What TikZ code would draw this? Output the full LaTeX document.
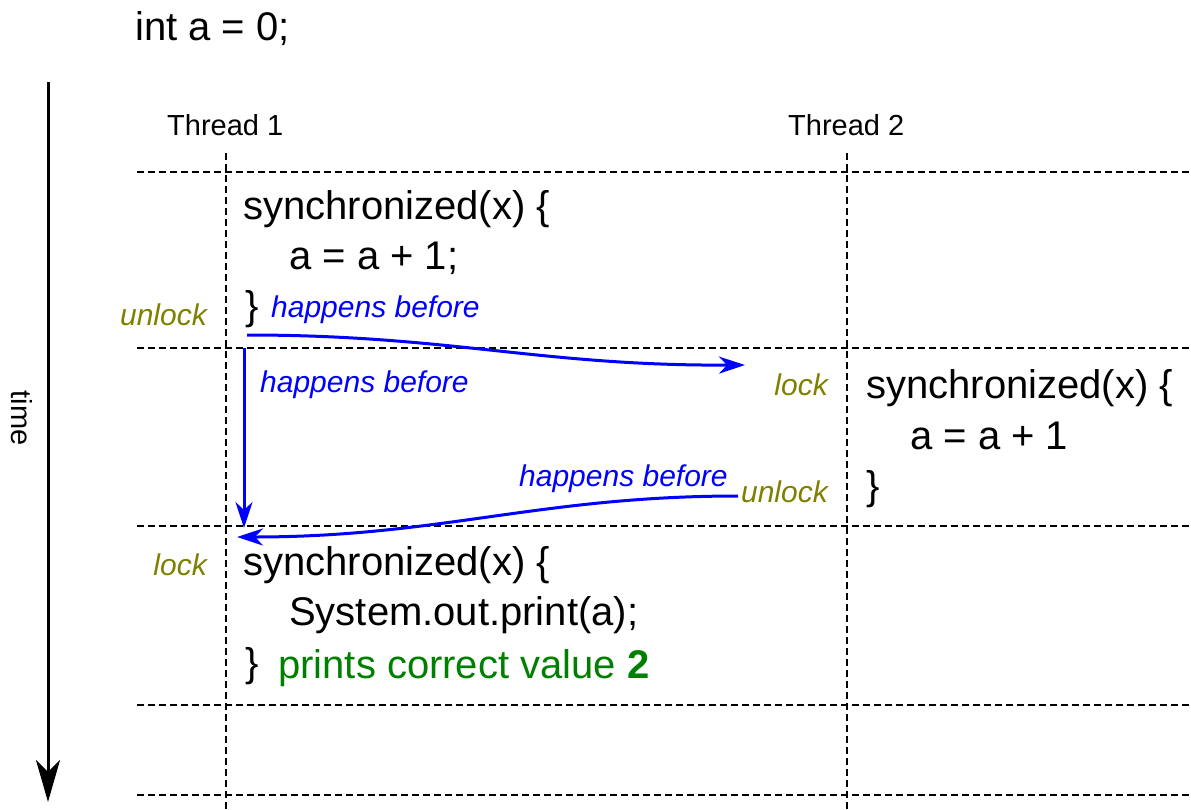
\documentclass[tikz,border=0pt]{standalone}
\usepackage{fontspec}
\setmainfont{Liberation Sans}
\usepackage{xcolor}
\usetikzlibrary{positioning,arrows.meta}
\definecolor{lockcol}{RGB}{128,128,0}
\definecolor{hbcol}{RGB}{0,0,255}
\definecolor{okcol}{RGB}{0,128,0}

\begin{document}
\begin{tikzpicture}[x=1pt,y=-1pt,
	code/.style={anchor=base west,inner sep=0pt,font=\fontsize{40}{48}\selectfont},
	lbl/.style={anchor=base west,inner sep=0pt,font=\fontsize{29}{34}\selectfont},
	hb/.style={anchor=base west,inner sep=0pt,text=hbcol,font=\fontsize{30}{36}\selectfont\itshape},
	lk/.style={anchor=base east,inner sep=0pt,text=lockcol,font=\fontsize{30}{36}\selectfont\itshape},
	grid/.style={dash pattern=on 7pt off 4pt,line width=2.3pt},
	hbarrow/.style={draw=hbcol,line width=3pt,-{Stealth[length=26pt,width=17pt,inset=8pt]}}]
		\useasboundingbox (0,0) rectangle (1191,809);
		% time axis
		\foreach \y in {172,348,526,705,795}{
			\draw[grid] (137,\y) -- (1191,\y);
		}
		\foreach \x in {226,847}{
			\draw[grid] (\x,153) -- (\x,809);
		}
		\coordinate (timeTop) at (48,82);
		\coordinate (timeEnd) at (48,802);
		\draw[line width=3pt,-{Stealth[length=42pt,width=24pt,inset=12pt]}] (timeTop) -- (timeEnd);
		\node[lbl,anchor=center,rotate=-90] (timeLbl) at (22,418) {time};
		\node[code] (decl) at (135,40) {int a = 0;};
		\node[lbl] (thOne) at (167,135) {Thread 1};
		\node[lbl] (thTwo) at (788,135) {Thread 2};
		% thread 1, first block
		\node[code] (syncA) at (243,219) {synchronized(x) \{};
		\node[code] (incA) at (289,269) {a = a + 1;};
		\node[code] (closeA) at (245,319) {\}};
		\node[lk] (unlockA) at (207,325) {unlock};
		\node[hb] (hbA) at (271,317) {happens before};
		\node[hb] (hbB) at (260,392) {happens before};
		% thread 2
		\node[lk] (lockB) at (828,395) {lock};
		\node[code] (syncB) at (866,398) {synchronized(x) \{};
		\node[code] (incB) at (910,449) {a = a + 1};
		\node[code] (closeB) at (866,499) {\}};
		\node[hb] (hbC) at (519,486) {happens before};
		\node[lk] (unlockB) at (828,502) {unlock};
		% thread 1, second block
		\node[lk] (lockC) at (207,575) {lock};
		\node[code] (syncC) at (243,575) {synchronized(x) \{};
		\node[code] (printC) at (289,625) {System.out.print(a);};
		\node[code] (closeC) at (245,676) {\}};
		\node[code,text=okcol] (okC) at (278,678) {prints correct value \textbf{2}};
		% happens before edges
		\coordinate (relA) at (247,335);
		\coordinate (acqB) at (745,365);
		\coordinate (progA) at (244,348);
		\coordinate (progC) at (244,528);
		\coordinate (relB) at (738,496);
		\coordinate (acqC) at (237,537);
		\draw[hbarrow] (relA) .. controls (450,335) and (540,366) .. (acqB);
		\draw[hbarrow] (progA) -- (progC);
		\draw[hbarrow] (relB) .. controls (540,496) and (440,537) .. (acqC);
\end{tikzpicture}
\end{document}
